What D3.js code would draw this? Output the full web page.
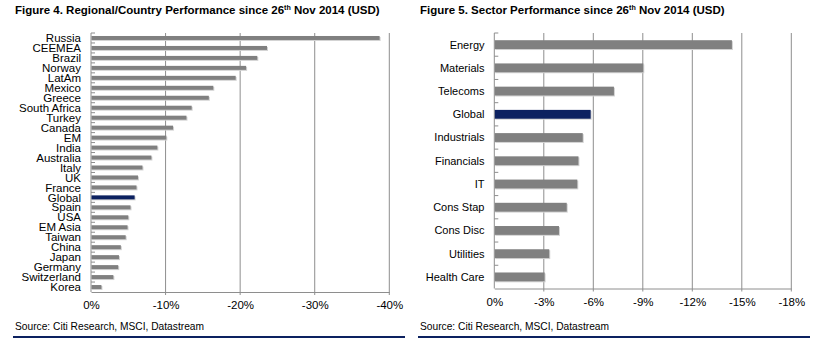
<!DOCTYPE html>
<html>
<head>
<meta charset="utf-8">
<script src="https://cdn.jsdelivr.net/npm/d3@7"></script>
<style>
  body { margin: 0; background: #fff; }
  svg { display: block; font-family: "Liberation Sans", Arial, sans-serif; }
</style>
</head>
<body>
<div id="chart"></div>
<script>
// Figure 4 data (performance, %)
var countries = ["Russia", "CEEMEA", "Brazil", "Norway", "LatAm", "Mexico", "Greece", "South Africa",
  "Turkey", "Canada", "EM", "India", "Australia", "Italy", "UK", "France", "Global", "Spain", "USA",
  "EM Asia", "Taiwan", "China", "Japan", "Germany", "Switzerland", "Korea"];
var countryValues = [-38.7, -23.6, -22.3, -20.8, -19.4, -16.4, -15.8, -13.5, -12.8, -11.0, -10.1, -8.9,
  -8.1, -6.9, -6.3, -6.1, -5.85, -5.3, -5.0, -4.9, -4.65, -4.0, -3.75, -3.65, -3.0, -1.4];
var countryTicks = [0, -10, -20, -30, -40];

// Figure 5 data
var sectors = ["Energy", "Materials", "Telecoms", "Global", "Industrials", "Financials", "IT",
  "Cons Stap", "Cons Disc", "Utilities", "Health Care"];
var sectorValues = [-14.4, -9.03, -7.25, -5.84, -5.36, -5.1, -5.03, -4.39, -3.92, -3.33, -3.05];
var sectorTicks = [0, -3, -6, -9, -12, -15, -18];

var width = 826, height = 338;
var svg = d3.select("#chart").append("svg")
    .attr("width", width)
    .attr("height", height);

function drawPanel(opt) {
  var data = opt.cats.map(function(c, i) { return {name: c, value: opt.values[i]}; });
  var g = svg.append("g");

  var x = d3.scaleLinear()
      .domain([0, opt.ticks[opt.ticks.length - 1]])
      .range([opt.left, opt.right]);
  var y = d3.scaleBand()
      .domain(opt.cats)
      .range([opt.top, opt.bottom])
      .paddingInner(opt.pad)
      .paddingOuter(opt.pad / 2);
  var band = d3.scaleBand().domain(opt.cats).range([opt.top, opt.bottom]);

  // title, font size fitted to the reference width
  var title = g.append("text")
      .attr("x", opt.titleX)
      .attr("y", 14)
      .style("font-weight", "bold")
      .style("font-size", "12px")
      .style("fill", "#000");
  title.append("tspan").text(opt.titleA);
  var sup = title.append("tspan").attr("dy", -4).style("font-size", "7.5px").text("th");
  title.append("tspan").attr("dy", 4).text(opt.titleB);
  var w = title.node().getComputedTextLength();
  var fs = 12 * opt.titleW / w;
  title.style("font-size", fs + "px");
  sup.style("font-size", (fs * 0.62) + "px");

  // gridlines
  g.selectAll(".grid")
    .data(opt.ticks.slice(1))
    .enter().append("line")
      .attr("x1", d => x(d)).attr("x2", d => x(d))
      .attr("y1", opt.top).attr("y2", opt.bottom + 3)
      .style("stroke", "#8e8e8e")
      .style("stroke-width", 1);

  // bottom axis
  var xAxis = d3.axisBottom(x)
      .tickValues(opt.ticks)
      .tickSize(0)
      .tickPadding(opt.tickPad)
      .tickFormat(d => d + "%");
  var ax = g.append("g")
      .attr("transform", "translate(0," + opt.bottom + ")")
      .call(xAxis);
  ax.select(".domain").style("stroke", "#8e8e8e");
  ax.selectAll("text")
      .style("font-size", "11.5px")
      .style("font-family", "Liberation Sans, Arial, sans-serif")
      .style("fill", "#000");

  // left axis line + small ticks between categories
  g.append("line")
      .attr("x1", opt.left).attr("x2", opt.left)
      .attr("y1", opt.top).attr("y2", opt.bottom)
      .style("stroke", "#8e8e8e");
  var bounds = opt.cats.map(c => band(c));
  g.selectAll(".ytick")
    .data(bounds)
    .enter().append("line")
      .attr("x1", opt.left).attr("x2", opt.left + 4)
      .attr("y1", d => d).attr("y2", d => d)
      .style("stroke", "#8e8e8e");

  // category labels
  g.selectAll(".lab")
    .data(data)
    .enter().append("text")
      .attr("x", opt.labelX)
      .attr("y", d => y(d.name) + y.bandwidth() / 2)
      .attr("dy", "0.36em")
      .attr("text-anchor", "end")
      .style("font-size", opt.labelSize)
      .style("fill", "#000")
      .text(d => d.name);

  // bar shadows
  g.selectAll(".shadow")
    .data(data)
    .enter().append("rect")
      .attr("x", opt.left + 1)
      .attr("y", d => y(d.name) + 1)
      .attr("width", d => x(d.value) - opt.left)
      .attr("height", y.bandwidth())
      .style("fill", "#d2d2d2");

  // bars
  g.selectAll(".bar")
    .data(data)
    .enter().append("rect")
      .attr("x", opt.left + 0.5)
      .attr("y", d => y(d.name))
      .attr("width", d => x(d.value) - opt.left - 0.5)
      .attr("height", y.bandwidth())
      .style("fill", d => d.name == "Global" ? "#0c2160" : "#808080");

  // source
  g.append("text")
      .attr("x", opt.titleX)
      .attr("y", 330)
      .style("font-size", "10.5px")
      .style("fill", "#000")
      .attr("textLength", 189)
      .attr("lengthAdjust", "spacingAndGlyphs")
      .text("Source: Citi Research, MSCI, Datastream");

  // bottom rule
  g.append("line")
      .attr("x1", opt.titleX - 2).attr("x2", opt.titleX + 390)
      .attr("y1", 337).attr("y2", 337)
      .style("stroke", "#0c2160")
      .style("stroke-width", 2);
}

drawPanel({
  cats: countries, values: countryValues, ticks: countryTicks,
  left: 91, right: 389.3, top: 33, bottom: 292, pad: 0.6,
  labelX: 81, labelSize: "11.5px", tickPad: 9,
  titleX: 15, titleW: 365,
  titleA: "Figure 4. Regional/Country Performance since 26", titleB: " Nov 2014 (USD)"
});

drawPanel({
  cats: sectors, values: sectorValues, ticks: sectorTicks,
  left: 494.3, right: 791.3, top: 33, bottom: 288.5, pad: 0.62,
  labelX: 484.5, labelSize: "11px", tickPad: 9,
  titleX: 420, titleW: 305,
  titleA: "Figure 5. Sector Performance since 26", titleB: " Nov 2014 (USD)"
});
</script>
</body>
</html>
